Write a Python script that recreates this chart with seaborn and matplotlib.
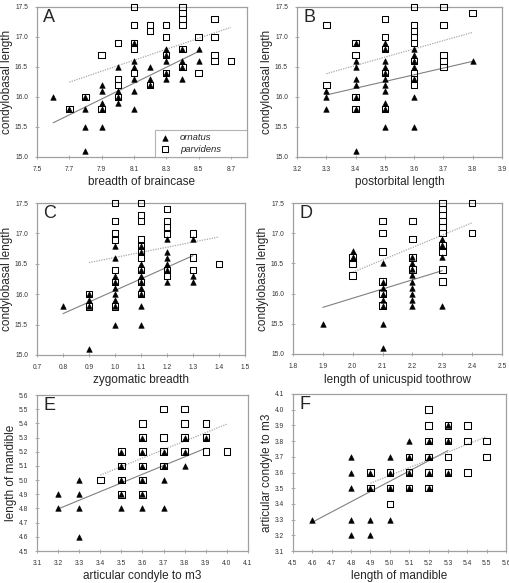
import matplotlib
matplotlib.use("Agg")
import matplotlib.pyplot as plt
import numpy as np
import pandas as pd
import seaborn as sns

sns.set_style("white")
plt.rcParams["font.family"] = ["Liberation Sans", "DejaVu Sans"]

# ---------------- data (x value -> list of y values at that x) ----------------
# Panel A: breadth of braincase vs condylobasal length
A_orn_x = [7.6, 7.7, 7.8, 7.9, 8.0, 8.1, 8.2, 8.3, 8.4, 8.5]
A_orn_y = [[16.0], [15.8], [16.0, 15.8, 15.5, 15.1], [16.2, 16.1, 15.9, 15.8, 15.5],
           [16.5, 16.1, 16.0, 15.9], [16.9, 16.6, 16.5, 16.3, 16.1, 15.8],
           [16.5, 16.3, 16.2], [16.8, 16.7, 16.6, 16.4, 16.3], [16.8, 16.6, 16.5, 16.3],
           [16.8, 16.6]]
A_par_x = [7.7, 7.8, 7.9, 8.0, 8.1, 8.2, 8.3, 8.4, 8.5, 8.6, 8.7]
A_par_y = [[15.8], [16.0], [16.7, 15.8], [16.9, 16.3, 16.2, 16.0],
           [17.5, 17.2, 16.9, 16.8, 16.4], [17.2, 17.1, 16.2], [17.2, 17.0, 16.7, 16.4],
           [17.5, 17.4, 17.3, 17.2, 16.8, 16.5], [17.0, 16.4], [17.3, 17.0, 16.7, 16.6],
           [16.6]]

# Panel B: postorbital length vs condylobasal length
B_orn_x = [3.3, 3.4, 3.5, 3.6, 3.8]
B_orn_y = [[16.1, 16.0, 15.8], [16.9, 16.6, 16.5, 16.3, 16.2, 16.0, 15.8, 15.1],
           [16.9, 16.8, 16.6, 16.5, 16.4, 16.3, 16.2, 16.1, 15.9, 15.8, 15.5],
           [16.8, 16.7, 16.6, 16.5, 16.3, 16.0, 15.5], [16.6]]
B_par_x = [3.3, 3.4, 3.5, 3.6, 3.7, 3.8]
B_par_y = [[17.2, 16.2], [16.9, 16.7, 16.0, 15.8], [17.3, 17.0, 16.8, 16.4, 15.8],
           [17.5, 17.2, 17.1, 17.0, 16.9, 16.6, 16.4, 16.3, 16.2],
           [17.5, 17.2, 16.7, 16.6, 16.5], [17.4]]

# Panel C: zygomatic breadth vs condylobasal length
C_orn_x = [0.8, 0.9, 1.0, 1.1, 1.2, 1.3]
C_orn_y = [[15.8], [16.0, 15.9, 15.8, 15.1],
           [16.8, 16.6, 16.3, 16.2, 16.1, 16.0, 15.9, 15.8, 15.5],
           [16.8, 16.7, 16.5, 16.4, 16.3, 16.2, 16.1, 16.0, 15.8, 15.5],
           [16.9, 16.7, 16.6, 16.5, 16.4, 16.2], [16.9, 16.3, 16.2]]
C_par_x = [0.9, 1.0, 1.1, 1.2, 1.3, 1.4]
C_par_y = [[16.0, 15.8], [17.5, 17.2, 17.0, 16.9, 16.4, 16.2, 15.8],
           [17.5, 17.3, 17.2, 16.9, 16.8, 16.7, 16.6, 16.4, 16.2, 16.0],
           [17.4, 17.2, 17.1, 17.0, 16.4, 16.3], [17.0, 16.6, 16.4], [16.5]]

# Panel D: length of unicuspid toothrow vs condylobasal length
D_orn_x = [1.9, 2.0, 2.1, 2.2, 2.3]
D_orn_y = [[15.5], [16.7, 16.6], [16.5, 16.2, 16.1, 16.0, 15.9, 15.8, 15.5, 15.1],
           [16.6, 16.5, 16.4, 16.3, 16.2, 16.1, 16.0, 15.9, 15.8], [16.9, 16.8, 16.6, 15.8]]
D_par_x = [2.0, 2.1, 2.2, 2.3, 2.4]
D_par_y = [[16.6, 16.5, 16.3], [17.2, 17.0, 16.7, 16.2, 16.0, 15.8], [17.2, 16.9, 16.6, 16.4],
           [17.5, 17.4, 17.3, 17.2, 17.1, 17.0, 16.8, 16.7, 16.4, 16.2], [17.5, 17.0]]

# Panel E: articular condyle to m3 vs length of mandible
E_orn_x = [3.2, 3.3, 3.5, 3.6, 3.7, 3.8, 3.9]
E_orn_y = [[4.9, 4.8], [5.0, 4.9, 4.8, 4.6], [5.2, 5.1, 5.0, 4.9, 4.8],
           [5.3, 5.2, 5.1, 5.0, 4.9, 4.8], [5.2, 5.1, 5.0, 4.8], [5.3, 5.2, 5.1], [5.3]]
E_par_x = [3.4, 3.5, 3.6, 3.7, 3.8, 3.9, 4.0]
E_par_y = [[5.0], [5.2, 5.1, 5.0, 4.9], [5.4, 5.3, 5.2, 5.1, 5.0, 4.9], [5.5, 5.3, 5.2, 5.1],
           [5.5, 5.4, 5.3, 5.2], [5.4, 5.3, 5.2], [5.2]]

# Panel F: length of mandible vs articular condyle to m3
F_orn_x = [4.6, 4.8, 4.9, 5.0, 5.1, 5.2, 5.3]
F_orn_y = [[3.3], [3.7, 3.6, 3.5, 3.3, 3.2], [3.6, 3.5, 3.3, 3.2], [3.7, 3.6, 3.5, 3.3],
           [3.8, 3.7, 3.6, 3.5], [3.8, 3.7, 3.6, 3.5], [3.9, 3.8, 3.6]]
F_par_x = [4.9, 5.0, 5.1, 5.2, 5.3, 5.4, 5.5]
F_par_y = [[3.6, 3.5], [3.6, 3.5, 3.4], [3.7, 3.6, 3.5], [4.0, 3.9, 3.8, 3.7, 3.6, 3.5],
           [3.9, 3.8, 3.7, 3.6], [3.9, 3.8, 3.6], [3.8, 3.7]]

species_names = ["ornatus", "parvidens"]
panel_letters = ["A", "B", "C", "D", "E", "F"]
x_labels = ["breadth of braincase", "postorbital length", "zygomatic breadth",
            "length of unicuspid toothrow", "articular condyle to m3", "length of mandible"]
y_labels = ["condylobasal length", "condylobasal length", "condylobasal length",
            "condylobasal length", "length of mandible", "articular condyle to m3"]


def expand(xs, groups, sp):
    rows = [(x, y, sp) for x, g in zip(xs, groups) for y in g]
    return pd.DataFrame(rows, columns=["x", "y", "species"])


panel_data = [
    (A_orn_x, A_orn_y, A_par_x, A_par_y),
    (B_orn_x, B_orn_y, B_par_x, B_par_y),
    (C_orn_x, C_orn_y, C_par_x, C_par_y),
    (D_orn_x, D_orn_y, D_par_x, D_par_y),
    (E_orn_x, E_orn_y, E_par_x, E_par_y),
    (F_orn_x, F_orn_y, F_par_x, F_par_y),
]

# ---------------- layout ----------------
W, H = 510, 583
fig = plt.figure(figsize=(W / 100, H / 100), dpi=100)
fig.patch.set_facecolor("white")

boxes = [(37, 247, 7, 157), (297, 502, 7, 157),
         (37, 245, 203, 355), (293, 502, 203, 354),
         (37, 248, 395, 551), (293, 506, 394, 551)]
xlims = [(7.5, 8.8), (3.2, 3.9), (0.7, 1.5), (1.8, 2.5), (3.1, 4.1), (4.5, 5.6)]
xticks = [np.arange(7.5, 8.75, 0.2), np.arange(3.2, 3.95, 0.1), np.arange(0.7, 1.55, 0.1),
          np.arange(1.8, 2.55, 0.1), np.arange(3.1, 4.15, 0.1), np.arange(4.5, 5.65, 0.1)]
ylims = [(15.0, 17.5)] * 4 + [(4.5, 5.6), (3.1, 4.1)]
yticks = [np.arange(15.0, 17.55, 0.5)] * 4 + [np.arange(4.5, 5.65, 0.1), np.arange(3.1, 4.15, 0.1)]

spine_col = "#a0a0a0"

for i, (ox, oy, px, py) in enumerate(panel_data):
    l, r, t, b = boxes[i]
    ax = fig.add_axes([l / W, 1 - b / H, (r - l) / W, (b - t) / H])
    orn = expand(ox, oy, species_names[0])
    par = expand(px, py, species_names[1])

    sns.scatterplot(data=orn, x="x", y="y", marker="^", color="black", s=16,
                    edgecolor="black", linewidth=0.4, ax=ax, label=species_names[0],
                    zorder=3, clip_on=False)
    sns.scatterplot(data=par, x="x", y="y", marker="s", s=22, facecolors="none",
                    edgecolors="black", linewidth=0.75, ax=ax, label=species_names[1],
                    zorder=4, clip_on=False)
    sns.regplot(data=orn, x="x", y="y", scatter=False, ci=None, ax=ax,
                line_kws=dict(color="#808080", lw=0.8, zorder=2))
    sns.regplot(data=par, x="x", y="y", scatter=False, ci=None, ax=ax,
                line_kws=dict(color="#a8a8a8", lw=0.9, ls=(0, (1, 1)), zorder=2))

    ax.set_xlim(*xlims[i])
    ax.set_ylim(*ylims[i])
    ax.set_xticks(xticks[i])
    ax.set_yticks(yticks[i])
    ax.set_xticklabels([f"{v:.1f}" for v in xticks[i]])
    ax.set_yticklabels([f"{v:.1f}" for v in yticks[i]])
    ax.tick_params(axis="both", labelsize=4.8, length=3, width=0.6, color=spine_col,
                   direction="inout", pad=5, bottom=True, left=True, labelcolor="#333333")
    for sp in ax.spines.values():
        sp.set_color(spine_col)
        sp.set_linewidth(0.9)
    ax.set_xlabel(x_labels[i], fontsize=8.5, labelpad=2.5)
    ax.set_ylabel(y_labels[i], fontsize=8.5, labelpad=1.5)
    ax.text(0.03, 0.985, panel_letters[i], transform=ax.transAxes, fontsize=13,
            va="top", ha="left")

    if i == 0:
        aw, ah = r - l, b - t
        leg = ax.legend(loc="lower left", mode="expand",
                        bbox_to_anchor=((155 - l) / aw, 0, (247 - 155) / aw, 26 / ah),
                        borderaxespad=0, frameon=True, fancybox=False,
                        fontsize=6.8, handletextpad=0.9, borderpad=0.35, labelspacing=0.25,
                        handlelength=1.4)
        leg.get_frame().set_edgecolor(spine_col)
        leg.get_frame().set_linewidth(0.8)
        for txt in leg.get_texts():
            txt.set_style("italic")
    else:
        lg = ax.get_legend()
        if lg is not None:
            lg.remove()

fig.savefig("out.png", dpi=100, facecolor="white")
